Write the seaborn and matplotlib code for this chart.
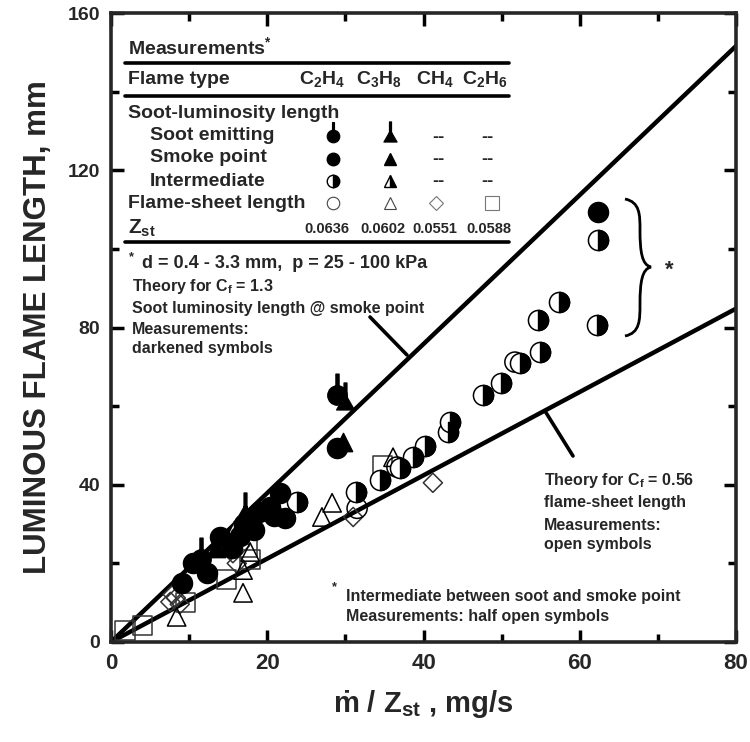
import numpy as np
import pandas as pd
import matplotlib
matplotlib.use("Agg")
import matplotlib.pyplot as plt
import seaborn as sns
from matplotlib.path import Path
from matplotlib.markers import MarkerStyle
from matplotlib.lines import Line2D
from matplotlib.patches import PathPatch
from matplotlib.ticker import MultipleLocator
import matplotlib.font_manager as fm

# ---------------- data ----------------
theory_x = [0, 80]
theory_smoke_y = [0, 151.6]      # C_f = 1.3
theory_sheet_y = [0, 84.8]       # C_f = 0.56

c2h4_soot_x = [11.5, 28.9]
c2h4_soot_y = [21.0, 62.8]
c3h8_soot_x = [17.2, 30.0]
c3h8_soot_y = [33.0, 61.0]

c2h4_smoke_x = [9.1, 10.5, 12.3, 14.0, 15.5, 16.5, 17.0, 18.3, 19.0, 20.3, 20.8, 21.6, 22.3, 28.9, 62.3]
c2h4_smoke_y = [15.0, 20.0, 17.5, 26.7, 24.0, 27.0, 30.0, 28.5, 33.0, 34.4, 32.0, 37.9, 31.6, 49.4, 109.4]
c3h8_smoke_x = [13.5, 18.0, 29.7]
c3h8_smoke_y = [24.0, 31.0, 51.0]

c2h4_inter_x = [23.8, 31.4, 34.4, 37.0, 38.7, 40.2, 43.1, 43.4, 47.6, 49.9, 52.4, 54.9, 54.7, 57.3, 62.2, 62.3]
c2h4_inter_y = [35.6, 38.2, 41.2, 44.3, 47.0, 49.9, 53.4, 56.0, 62.8, 65.9, 71.0, 73.8, 82.0, 86.5, 80.7, 102.3]
c3h8_inter_x = [15.8]
c3h8_inter_y = [28.5]

c2h4_sheet_x = [31.5, 36.6, 51.7]
c2h4_sheet_y = [34.0, 44.5, 71.2]
c3h8_sheet_x = [8.4, 16.9, 16.9, 17.8, 27.0, 28.3, 36.1]
c3h8_sheet_y = [6.4, 12.5, 18.3, 22.9, 31.8, 35.4, 47.0]
ch4_sheet_x = [7.6, 8.3, 8.8, 7.9, 15.6, 16.1, 16.5, 31.0, 41.2]
ch4_sheet_y = [10.2, 11.2, 9.6, 12.1, 22.6, 20.0, 24.5, 31.8, 40.5]
c2h6_sheet_x = [1.8, 4.0, 9.5, 14.8, 17.8, 17.4, 34.8]
c2h6_sheet_y = [3.0, 4.3, 10.0, 15.8, 20.9, 24.0, 45.0]

fuels = ["C$_\\mathregular{2}$H$_\\mathregular{4}$", "C$_\\mathregular{3}$H$_\\mathregular{8}$",
         "CH$_\\mathregular{4}$", "C$_\\mathregular{2}$H$_\\mathregular{6}$"]
zst_values = ["0.0636", "0.0602", "0.0551", "0.0588"]
x_ticks = [0, 20, 40, 60, 80]
y_ticks = [0, 40, 80, 120, 160]

# ---------------- style ----------------
sns.set_style("ticks")
available = {f.name for f in fm.fontManager.ttflist}
NARROW = "Liberation Sans Narrow" if "Liberation Sans Narrow" in available else "Liberation Sans"
plt.rcParams["font.family"] = ["Liberation Sans", "DejaVu Sans"]
plt.rcParams["font.weight"] = "bold"
plt.rcParams["mathtext.fontset"] = "custom"
plt.rcParams["mathtext.rm"] = "Liberation Sans:bold"
plt.rcParams["mathtext.it"] = "Liberation Sans:bold"
plt.rcParams["mathtext.bf"] = "Liberation Sans:bold"

fig = plt.figure(figsize=(7.5, 7.42), dpi=100)
ax = fig.add_axes([111 / 750, 100 / 742, 625 / 750, 629 / 742])


def F(x, y):
    return (x / 750, 1 - y / 742)


# custom markers
circ = Path.unit_circle()
circ = Path(circ.vertices * 0.5, circ.codes)
stick = Path([(-0.08, 0.45), (0.08, 0.45), (0.08, 1.1), (-0.08, 1.1), (-0.08, 0.45)],
             [Path.MOVETO, Path.LINETO, Path.LINETO, Path.LINETO, Path.CLOSEPOLY])
circ_stick = Path.make_compound_path(circ, stick)
tri = Path([(-0.5, -0.42), (0.5, -0.42), (0.0, 0.45), (-0.5, -0.42)],
           [Path.MOVETO, Path.LINETO, Path.LINETO, Path.CLOSEPOLY])
stick2 = Path([(-0.08, 0.2), (0.08, 0.2), (0.08, 1.1), (-0.08, 1.1), (-0.08, 0.2)],
              [Path.MOVETO, Path.LINETO, Path.LINETO, Path.LINETO, Path.CLOSEPOLY])
tri_stick = Path.make_compound_path(tri, stick2)

# theory lines
sns.lineplot(x=theory_x, y=theory_smoke_y, ax=ax, color="black", lw=3.2, zorder=2)
sns.lineplot(x=theory_x, y=theory_sheet_y, ax=ax, color="black", lw=3.2, zorder=2)

S_C = 210   # circle size
S_T = 175
S_S = 190
S_D = 95


def sc(x, y, **kw):
    sns.scatterplot(x=x, y=y, ax=ax, legend=False, **kw)


# open (flame-sheet) markers
sc(c2h6_sheet_x, c2h6_sheet_y, marker="s", s=S_S, facecolor="none", edgecolor="#333333", linewidth=1.1, zorder=3)
sc(ch4_sheet_x, ch4_sheet_y, marker="D", s=S_D, facecolor="none", edgecolor="#333333", linewidth=1.1, zorder=3)
sc(c3h8_sheet_x, c3h8_sheet_y, marker="^", s=S_T, facecolor="none", edgecolor="black", linewidth=1.1, zorder=3)
sc(c2h4_sheet_x, c2h4_sheet_y, marker="o", s=S_C, facecolor="none", edgecolor="black", linewidth=1.1, zorder=4)

# intermediate (half-open)
sc(c2h4_inter_x, c2h4_inter_y, marker="o", s=S_C, facecolor="white", edgecolor="black", linewidth=1.1, zorder=4)
sc(c2h4_inter_x, c2h4_inter_y, marker=MarkerStyle("o", fillstyle="right"), s=S_C,
   color="black", edgecolor="black", linewidth=1.0, zorder=5)
sc(c3h8_inter_x, c3h8_inter_y, marker="^", s=S_T, facecolor="white", edgecolor="black", linewidth=1.1, zorder=4)
sc(c3h8_inter_x, c3h8_inter_y, marker=MarkerStyle("^", fillstyle="right"), s=S_T,
   color="black", edgecolor="black", linewidth=1.0, zorder=5)

# smoke point (filled)
sc(c2h4_smoke_x, c2h4_smoke_y, marker="o", s=S_C, color="black", edgecolor="black", linewidth=1.0, zorder=6)
sc(c3h8_smoke_x, c3h8_smoke_y, marker="^", s=S_T, color="black", edgecolor="black", linewidth=1.0, zorder=6)

# soot emitting
sc(c2h4_soot_x, c2h4_soot_y, marker=MarkerStyle(circ_stick), s=S_C * 4.5, color="black",
   edgecolor="black", linewidth=1.0, zorder=6)
sc(c3h8_soot_x, c3h8_soot_y, marker=MarkerStyle(tri_stick), s=S_T * 4.5, color="black",
   edgecolor="black", linewidth=1.0, zorder=6)

# ---------------- axes ----------------
ax.set_xlim(0, 80)
ax.set_ylim(0, 160)
ax.set_xticks(x_ticks)
ax.set_yticks(y_ticks)
ax.xaxis.set_minor_locator(MultipleLocator(10))
ax.yaxis.set_minor_locator(MultipleLocator(20))
ax.tick_params(which="both", direction="in", top=True, right=True, width=2.5, color="black")
ax.tick_params(which="major", length=9)
ax.tick_params(which="minor", length=6)
ax.tick_params(axis="x", pad=8)
ax.tick_params(axis="y", pad=8)
for sp in ax.spines.values():
    sp.set_linewidth(2.6)
    sp.set_visible(True)
for lab in ax.get_xticklabels():
    lab.set_fontfamily([NARROW, "DejaVu Sans"])
    lab.set_fontsize(16)
    lab.set_fontweight("bold")
for lab in ax.get_yticklabels():
    lab.set_fontsize(14)
    lab.set_fontweight("bold")

ax.set_xlabel("ṁ / Z$_\\mathregular{st}$ , mg/s", fontsize=21, fontweight="bold",
              family=[NARROW, "DejaVu Sans"], labelpad=10)
ax.set_ylabel("LUMINOUS FLAME LENGTH, mm", fontsize=22.5, fontweight="bold",
              family=[NARROW, "DejaVu Sans"], labelpad=10)

# ---------------- legend table ----------------
def T(x, y, s, size=13.5, ha="left", **kw):
    fig.text(*F(x, y), s, fontsize=size, ha=ha, va="center", fontweight="bold", **kw)


def HL(y, x0=125, x1=509):
    fig.add_artist(Line2D([x0 / 750, x1 / 750], [1 - y / 742] * 2, color="black", lw=2.6,
                          solid_capstyle="round"))


T(128, 47, "Measurements$^\\mathregular{*}$", 14)
HL(63)
T(128, 79, "Flame type", 14)
for xc, f in zip([322, 379, 435, 485], fuels):
    T(xc, 79, f, 14, ha="center")
HL(96)
T(128, 113, "Soot-luminosity length", 14)
T(150, 136, "Soot emitting", 14)
T(150, 158, "Smoke point", 14)
T(150, 181, "Intermediate", 14)
T(128, 203, "Flame-sheet length", 14)
T(128, 228, "Z$_\\mathregular{st}$", 15)
for xc, z in zip([327, 383, 435, 489], zst_values):
    T(xc, 229, z, 10.5, ha="center")
HL(242)
for xc in [438, 487]:
    for yy in [137, 159, 182]:
        T(xc, yy, "--", 13, ha="center")


def LM(x, y, **kw):
    fig.add_artist(Line2D([x / 750], [1 - y / 742], transform=fig.transFigure, linestyle="none", **kw))


LM(333, 136, marker=MarkerStyle(circ_stick), markersize=20, color="black", mec="black", mew=0.8)
LM(390, 136, marker=MarkerStyle(tri_stick), markersize=21, color="black", mec="black", mew=0.8)
LM(333, 159, marker="o", markersize=9, color="black")
LM(390, 159, marker="^", markersize=9, color="black")
LM(333, 181, marker="o", markersize=9, fillstyle="right", color="black", markerfacecoloralt="white", mec="black", mew=1)
LM(390, 181, marker="^", markersize=9, fillstyle="right", color="black", markerfacecoloralt="white", mec="black", mew=1)
LM(333, 203, marker="o", markersize=9, mfc="none", mec="#444444", mew=0.8)
LM(390, 203, marker="^", markersize=9, mfc="none", mec="#444444", mew=0.8)
LM(436, 203, marker="D", markersize=7, mfc="none", mec="#777777", mew=0.8)
LM(492, 203, marker="s", markersize=10, mfc="none", mec="#777777", mew=0.8)

# ---------------- annotations ----------------
T(128, 262, "$^\\mathregular{*}$", 13)
T(142, 264, "d = 0.4 - 3.3 mm,  p = 25 - 100 kPa", 13)
T(132, 287, "Theory for C$_\\mathregular{f}$ = 1.3", 11.5)
T(132, 309, "Soot luminosity length @ smoke point", 11.5)
T(132, 330, "Measurements:", 11.5)
T(132, 349, "darkened symbols", 11.5)

T(544, 481, "Theory for C$_\\mathregular{f}$ = 0.56", 11.5)
T(544, 503, "flame-sheet length", 11.5)
T(544, 525, "Measurements:", 11.5)
T(544, 545, "open symbols", 11.5)

T(331, 592, "$^\\mathregular{*}$", 13)
T(346, 597, "Intermediate between soot and smoke point", 11.5)
T(346, 617, "Measurements: half open symbols", 11.5)

# pointer lines
fig.add_artist(Line2D([F(370, 317)[0], F(407, 355)[0]], [F(370, 317)[1], F(407, 355)[1]],
                      color="black", lw=2.6))
fig.add_artist(Line2D([F(545, 411)[0], F(573, 456)[0]], [F(545, 411)[1], F(573, 456)[1]],
                      color="black", lw=2.6))

# brace
verts = [F(625, 199), F(640, 202), F(640, 215), F(640, 230),
         F(640, 252), F(642, 265), F(651, 267),
         F(642, 269), F(640, 282), F(640, 304),
         F(640, 320), F(640, 333), F(625, 336)]
codes = [Path.MOVETO, Path.CURVE4, Path.CURVE4, Path.CURVE4,
         Path.CURVE4, Path.CURVE4, Path.CURVE4,
         Path.CURVE4, Path.CURVE4, Path.CURVE4,
         Path.CURVE4, Path.CURVE4, Path.CURVE4]
fig.add_artist(PathPatch(Path(verts, codes), transform=fig.transFigure, fill=False, lw=2.0, color="black"))
T(665, 270, "*", 16)

fig.savefig("out.png", dpi=100)
